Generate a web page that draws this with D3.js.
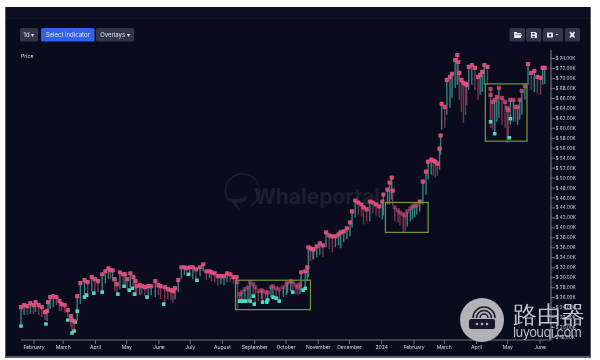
<!DOCTYPE html>
<html>
<head>
<meta charset="utf-8">
<script src="https://cdn.jsdelivr.net/npm/d3@7/dist/d3.min.js"></script>
<style>
html,body{margin:0;padding:0;background:#fff;overflow:hidden}
svg{display:block;filter:blur(0.45px)}
text{font-family:Inter,"Noto Sans",sans-serif}
</style>
</head>
<body>
<svg id="chart" width="600" height="360"></svg>
<script>
const startDate = new Date(2023, 0, 20);
const dayOffsets = [0,3,6,9,12,14,17,20,23,25,26,28,31,34,37,39,42,45,48,49,51,54,57,61,64,68,71,74,78,81,84,86,88,90,92,95,98,100,102,105,108,110,111,114,116,119,122,125,129,132,134,138,141,144,146,148,151,154,157,159,162,165,168,172,175,178,181,183,186,189,192,195,198,201,204,207,208,
210,212,215,218,220,223,225,228,231,232,235,237,240,242,245,248,252,255,256,259,261,264,266,268,269,273,275,276,278,280,281,284,287,290,293,296,299,302,305,307,310,313,316,318,321,324,327,329,332,335,338,341,344,347,348,352,354,356,357,359,362,364,367,369,371,374,376,378,380,383,386,389,391,394,396,398,400,402,403,404,407,409,412,414,417,419,420,421,423,425,427,428,430,433,436,439,441,443,445,448,451,451,453,455,457,459,462,465,467,468,470,473,475,477,479,481,484,487,490,493,496,499,501,503];
const highs = [24.0,24.4,24.2,24.8,24.4,25.0,24.4,24.0,23.0,23.2,25.0,26.0,26.2,26.0,25.2,24.6,24.4,23.4,22.2,21.4,21.2,26.2,28.8,29.4,29.0,30.0,29.6,29.2,30.6,31.2,31.8,31.4,31.4,29.6,28.6,31.0,30.6,30.6,29.6,30.8,30.0,29.2,28.2,28.4,28.2,28.0,28.2,28.2,29.2,28.4,28.2,28.0,27.6,27.4,27.2,27.8,29.4,32.0,32.0,31.8,32.0,32.0,31.6,32.0,32.6,31.2,31.2,31.0,30.8,30.2,30.2,30.2,30.8,30.6,30.0,30.0,29.0,
26.6,27.0,27.6,28.0,29.0,28.6,28.0,27.2,27.4,27.2,27.0,27.0,28.0,28.2,27.8,27.6,28.0,28.6,29.0,29.2,29.0,28.4,28.0,28.6,31.0,31.2,32.0,36.0,35.8,35.6,35.6,36.2,36.8,36.4,39.0,38.4,38.2,38.2,38.6,39.0,39.2,39.8,41.0,43.2,45.4,45.0,44.6,44.0,43.6,45.2,45.0,44.6,44.2,45.2,46.6,47.6,49.0,50.0,47.4,44.0,43.4,43.0,42.6,42.4,43.2,43.8,44.2,44.4,44.4,45.2,49.2,51.2,53.2,53.6,53.4,53.2,52.8,55.8,58.4,64.8,64.2,69.6,70.2,70.8,73.6,74.6,73.2,71.0,69.6,69.0,68.8,68.6,72.2,72.6,72.0,70.2,70.6,71.2,72.6,72.2,67.8,66.6,65.2,65.6,66.2,68.0,66.0,65.2,64.0,63.6,65.6,65.6,64.2,64.2,65.6,67.4,68.4,72.8,71.0,71.4,70.2,70.0,72.0,72.0];
const lows = [20.6,22.4,22.4,22.6,22.6,23.0,22.4,22.0,21.4,21.2,23.0,23.6,24.0,24.4,23.2,23.2,22.8,22.0,20.0,18.8,19.0,21.2,24.6,26.0,26.4,27.2,27.2,27.0,27.0,28.8,29.6,29.6,29.2,27.2,26.6,27.6,28.2,28.2,27.4,28.0,27.8,26.6,26.2,26.4,26.6,26.2,26.0,26.4,26.0,26.4,25.6,24.6,25.6,25.4,24.8,25.6,27.0,29.6,30.4,30.2,30.6,29.6,29.2,30.2,31.2,29.4,29.8,29.2,29.0,28.4,28.6,28.4,29.0,29.0,28.6,28.6,23.4,
25.0,25.0,25.2,25.2,25.2,26.0,24.6,25.2,25.6,25.0,25.0,25.2,26.0,26.0,25.8,25.2,26.0,26.4,26.8,27.2,27.0,26.6,26.4,26.6,27.4,27.8,29.2,30.0,33.2,33.6,33.6,34.0,34.4,34.0,36.0,35.6,35.0,36.0,36.4,35.8,37.0,37.6,38.2,40.0,42.0,42.6,42.2,40.6,41.2,41.2,42.8,42.4,42.0,41.6,42.4,44.6,44.6,45.6,44.4,41.2,41.0,40.4,38.8,39.2,40.2,41.2,41.6,42.0,42.6,43.2,44.6,46.6,49.6,50.6,50.4,50.0,50.4,51.6,54.6,59.6,60.0,62.6,64.0,66.0,68.0,68.6,69.6,65.6,63.2,61.0,62.6,64.6,67.6,68.6,67.6,65.6,66.6,67.2,68.6,68.6,61.2,60.0,59.6,58.8,61.2,62.0,60.6,60.0,57.0,58.0,60.6,61.2,61.2,60.6,61.6,62.6,65.6,68.6,67.6,67.2,66.8,66.6,68.6,68.8];
const tealDays = [0,24,45,49,51,52,54,61,63,70,78,93,99,104,107,109,121,137,161,169,210,212,214,216,220,223,224,232,236,237,242,245,248,261,271,273,451,455,470,469];
const tealPrices = [20.2,20.6,21.4,18.8,19.2,21.0,23.2,26.0,26.4,26.8,27.0,26.6,28.2,27.4,27.8,26.6,26.0,24.6,30.6,29.4,25.2,25.2,25.2,25.2,25.2,26.2,24.6,25.0,25.0,25.4,26.0,25.8,25.2,27.0,27.4,27.8,61.2,58.8,61.8,58.0];
const priceTicks = d3.range(18, 76, 2);
const monthTicks = [[2023,1],[2023,2],[2023,3],[2023,4],[2023,5],[2023,6],[2023,7],[2023,8],[2023,9],[2023,10],[2023,11],[2024,0],[2024,1],[2024,2],[2024,3],[2024,4],[2024,5]];
const monthLabels = ["February","March","April","May","June","July","August","September","October","November","December","2024","February","March","April","May","June"];
const boxDays = [[206,278],[350,391],[446,486]];
const boxPrices = [[23.5,29.4],[39.0,45.0],[57.3,68.8]];
const boxOpacity = [0.5,0.5,0.72];
const leftButtons = ["1d ▾","Select indicator","Overlays ▾"];

const svg = d3.select("#chart");
const bg = "#0a0c1e";
const dayToDate = d => d3.timeDay.offset(startDate, d);
const x = d3.scaleTime().domain([startDate, new Date(2024,5,1)]).range([21, 539.5]);
const y = d3.scaleLinear().domain([18,74]).range([337,58]);

// panel
svg.append("rect").attr("x",5).attr("y",7).attr("width",586).attr("height",351).attr("fill","#5a5c64");
svg.append("rect").attr("x",6).attr("y",7).attr("width",584).attr("height",349).attr("fill",bg);
svg.append("rect").attr("x",6).attr("y",7).attr("width",584).attr("height",11).attr("fill","#0b0e20");
svg.append("line").attr("x1",6).attr("x2",590).attr("y1",18).attr("y2",18).attr("stroke","#14172a");

// watermark
const wm = svg.append("g").attr("opacity",0.075);
wm.append("path").attr("d","M229 201 A17 17 0 1 1 250 206").attr("fill","none").attr("stroke","#fff").attr("stroke-width",1.5);
wm.append("path").attr("d","M229 198 Q234 207 241 212 L236 203 Q247 204 247 195 Q240 201 229 198Z").attr("fill","#fff");
wm.append("text").attr("x",254).attr("y",204).attr("font-size",21).attr("font-weight",700).attr("fill","#fff").text("Whaleportal");

// candles
const pts = dayOffsets.map((d,i)=>({d,date:dayToDate(d),hi:highs[i],lo:lows[i],up:i===0||highs[i]>=highs[i-1]}));
const inBox = p => boxDays.findIndex((b,i)=>p.d>=b[0]&&p.d<=b[1]&&p.hi>=boxPrices[i][0]&&p.hi<=boxPrices[i][1]);
svg.append("g").selectAll("line").data(pts).join("line")
  .attr("x1",p=>x(p.date)).attr("x2",p=>x(p.date))
  .attr("y1",p=>y(p.hi)).attr("y2",p=>y(p.lo))
  .attr("stroke",p=>p.up?"#3d9f95":"#94405f").attr("stroke-width",1.4).attr("opacity",0.8);

// teal markers
svg.append("g").selectAll("rect").data(tealDays.map((d,i)=>({date:dayToDate(d),v:tealPrices[i]}))).join("rect")
  .attr("x",p=>x(p.date)-1.8).attr("y",p=>y(p.v)-1.8).attr("width",3.6).attr("height",3.6).attr("rx",0.6)
  .attr("fill","#4fd8bd");

// pink markers
svg.append("g").selectAll("rect").data(pts).join("rect")
  .attr("x",p=>x(p.date)-2.1).attr("y",p=>y(p.hi)-2.1).attr("width",4.2).attr("height",4.2).attr("rx",0.7)
  .attr("fill","#e4517f")
  .attr("opacity",p=>{const b=inBox(p);return b>=0?boxOpacity[b]:0.92;});

// highlight boxes
svg.append("g").selectAll("rect").data(boxDays.map((b,i)=>({b,p:boxPrices[i]}))).join("rect")
  .attr("x",o=>x(dayToDate(o.b[0]))).attr("width",o=>x(dayToDate(o.b[1]))-x(dayToDate(o.b[0])))
  .attr("y",o=>y(o.p[1])).attr("height",o=>y(o.p[0])-y(o.p[1]))
  .attr("fill","none").attr("stroke","#6f9b3f").attr("stroke-width",1.2);

// axes
const axisColor="#6f7178";
const yAxis = d3.axisRight(y).tickValues(priceTicks).tickSize(4).tickPadding(0.5).tickFormat(v=>"$ "+v.toFixed(2)+"K");
const gy = svg.append("g").attr("transform","translate(551,0)").call(yAxis);
gy.select(".domain").attr("d","M0,50V340").attr("stroke",axisColor).attr("stroke-width",1.2);
gy.selectAll(".tick line").attr("stroke",axisColor);
gy.selectAll("text").attr("font-size",4.7).attr("fill","#d6d7dc").attr("font-family","Inter,sans-serif");

const monthDates = monthTicks.map(m=>new Date(m[0],m[1],1));
const xAxis = d3.axisBottom(x).tickValues(monthDates).tickSize(4).tickPadding(1).tickFormat((d,i)=>monthLabels[i]);
const gx = svg.append("g").attr("transform","translate(0,340)").call(xAxis);
gx.select(".domain").attr("d","M21,0H551").attr("stroke",axisColor).attr("stroke-width",1.2);
gx.selectAll(".tick line").attr("stroke",axisColor);
gx.selectAll("text").attr("font-size",5).attr("fill","#d6d7dc").attr("font-family","Inter,sans-serif");

svg.append("text").attr("x",21).attr("y",58).attr("font-size",5.2).attr("fill","#d8d8de").text("Price");

// toolbar
const btn=(bx,w,fill)=>svg.append("rect").attr("x",bx).attr("y",28).attr("width",w).attr("height",13.5).attr("rx",1.5).attr("fill",fill);
[[20,18,"#33364a"],[41,53.5,"#2f62e6"],[96,38,"#33364a"]].forEach((b,i)=>{
  btn(b[0],b[1],b[2]);
  svg.append("text").attr("x",b[0]+b[1]/2).attr("y",37).attr("text-anchor","middle").attr("font-size",6).attr("fill","#dfe3ee").text(leftButtons[i]);
});
[[509.5,15.5],[526,15.5],[543,20],[565,15]].forEach(b=>btn(b[0],b[1],"#33364a"));
const ic="#e8e9ee";
svg.append("path").attr("d","M514 32h2.5l1 1h3.5v1h-6l-1 3.5zM515 34.5h7l-1.5 3.5h-6.5z").attr("fill",ic);
svg.append("path").attr("d","M531 32h4.5l1.5 1.5v4.5h-6zM532.2 33v1.4h2.6v-1.4zM532.2 36v1.5h2.6v-1.5z").attr("fill",ic);
svg.append("rect").attr("x",547).attr("y",32.5).attr("width",6).attr("height",5).attr("rx",1).attr("fill",ic);
svg.append("circle").attr("cx",550).attr("cy",35).attr("r",1.2).attr("fill","#33364a");
svg.append("path").attr("d","M555.5 34h2.6l-1.3 1.6z").attr("fill",ic);
svg.append("path").attr("d","M570 32l4.5 5.5M574.5 32l-4.5 5.5").attr("stroke",ic).attr("stroke-width",1.6);
svg.append("rect").attr("x",570.7).attr("y",33.2).attr("width",3.1).attr("height",3.1).attr("fill",ic);

// corner logo
svg.append("circle").attr("cx",482).attr("cy",320).attr("r",22).attr("fill","#b3b3b7");
svg.append("path").attr("d","M471 319h22a2 2 0 0 1 2 2v6a2 2 0 0 1-2 2h-22a2 2 0 0 1-2-2v-6a2 2 0 0 1 2-2z").attr("fill","#16172a");
[477,482,487].forEach(cx=>svg.append("circle").attr("cx",cx).attr("cy",324).attr("r",1.3).attr("fill","#b3b3b7"));
[4,7.5,11].forEach(r=>svg.append("path").attr("d",`M${484-r} 318A${r} ${r} 0 0 1 ${484+r} 318`).attr("fill","none").attr("stroke","#16172a").attr("stroke-width",1.5));
svg.append("text").attr("x",513).attr("y",323).attr("font-size",23.5).attr("fill","#c4c4c8").attr("font-family","'Noto Sans CJK SC'").text("路由器");
svg.append("text").attr("x",513).attr("y",337).attr("font-size",13).attr("fill","#bcbcc0").attr("textLength",69).attr("font-family","'Open Sans',sans-serif").text("luyouqi.com");
</script>
</body>
</html>
